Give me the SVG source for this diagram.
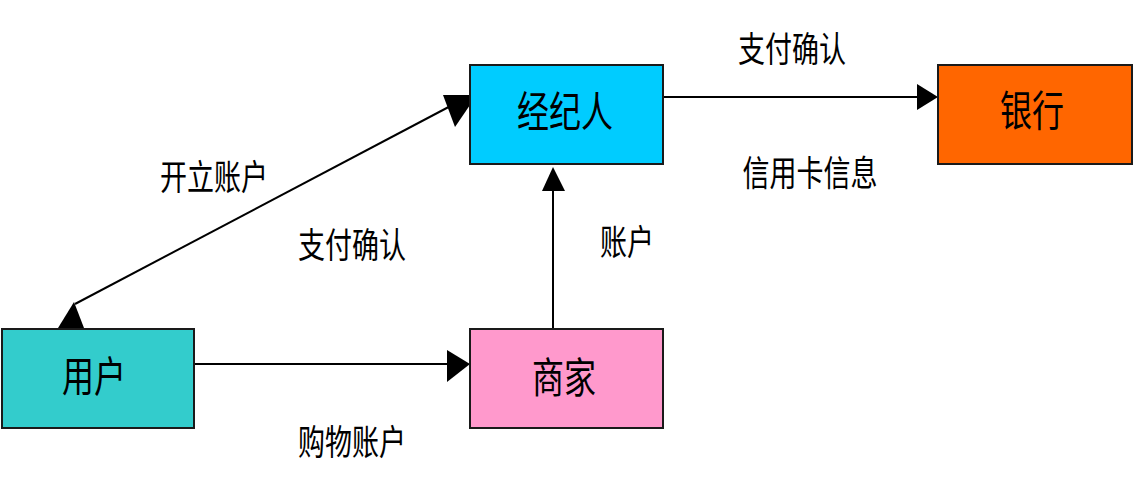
<svg xmlns="http://www.w3.org/2000/svg" width="1138" height="500" viewBox="0 0 1138 500">
<style>
.box{stroke:#1a1a1a;stroke-width:2}
.t{font-family:"Noto Sans CJK SC","Liberation Sans",sans-serif;text-anchor:middle;dominant-baseline:central;fill:#000}
.lbl{font-size:27px}
.nd{font-size:32px}
.ln{stroke:#000;stroke-width:2;fill:none}
.ah{fill:#000}
</style>
<rect width="1138" height="500" fill="#fff"/>
<g id="connectors">
<line class="ln" x1="75" y1="304" x2="460" y2="101"/>
<polygon class="ah" points="443,95 470,95 470,105 455,127"/>
<polygon class="ah" points="74,302 58,328 84,328"/>
<line class="ln" x1="663" y1="97" x2="920" y2="97"/>
<polygon class="ah" points="938,97 917,84 917,110"/>
<line class="ln" x1="194" y1="364" x2="450" y2="364"/>
<polygon class="ah" points="470,364 447,350 447,382"/>
<line class="ln" x1="553" y1="329" x2="553" y2="188"/>
<polygon class="ah" points="553,167 542,191 565,191"/>
</g>
<g id="labels">
<text class="t lbl" transform="translate(792,47) scale(1,1.3)">支付确认</text>
<text class="t lbl" transform="translate(810,171) scale(1,1.3)">信用卡信息</text>
<text class="t lbl" transform="translate(627,240) scale(1,1.3)">账户</text>
<text class="t lbl" transform="translate(352,440) scale(1,1.3)">购物账户</text>
<text class="t lbl" transform="translate(214,175) scale(1,1.3)">开立账户</text>
<text class="t lbl" transform="translate(352,243) scale(1,1.3)">支付确认</text>
</g>
<g id="node-broker">
<rect class="box" x="470" y="65" width="193" height="99" fill="#00ccff"/>
<text class="t nd" transform="translate(565,109) scale(1,1.3)">经纪人</text>
</g>
<g id="node-bank">
<rect class="box" x="938" y="65" width="194" height="99" fill="#ff6600"/>
<text class="t nd" transform="translate(1032,108) scale(1,1.3)">银行</text>
</g>
<g id="node-user">
<rect class="box" x="2" y="329" width="192" height="99" fill="#33cccc"/>
<text class="t nd" transform="translate(94,374) scale(1,1.3)">用户</text>
</g>
<g id="node-merchant">
<rect class="box" x="470" y="329" width="193" height="99" fill="#ff99cc"/>
<text class="t nd" transform="translate(564,375) scale(1,1.3)">商家</text>
</g>
</svg>
